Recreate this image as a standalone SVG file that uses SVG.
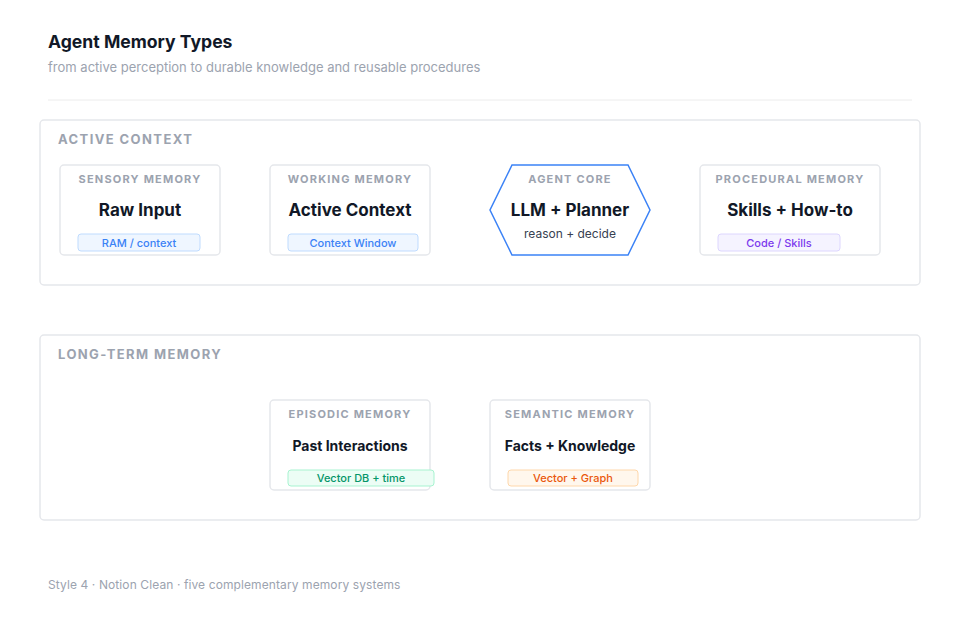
<svg xmlns="http://www.w3.org/2000/svg" width="960" height="620" viewBox="0 0 960 620">
<style>
text{font-family:Inter,"Noto Sans","Liberation Sans",sans-serif}
.title{font-size:17.6px;font-weight:700;fill:#111827}
.sub{font-size:13px;fill:#9ca3af}
.group{fill:#ffffff;stroke:#e5e7eb;stroke-width:1.5}
.glabel{font-size:13px;font-weight:700;fill:#9ca3af;letter-spacing:1.4px}
.box{fill:#ffffff;stroke:#e5e7eb;stroke-width:1.5}
.kind{font-size:11px;font-weight:700;fill:#9ca3af;letter-spacing:1.2px;text-anchor:middle}
.main{font-size:17px;font-weight:700;fill:#111827;text-anchor:middle}
.main2{font-size:14px;font-weight:700;fill:#111827;text-anchor:middle}
.note{font-size:12px;fill:#374151;text-anchor:middle}
.badge{font-size:11px;font-weight:500;text-anchor:middle}
.foot{font-size:12px;fill:#9ca3af;letter-spacing:0.1px}
</style>
<rect width="960" height="620" fill="#ffffff"/>
<text class="title" x="48" y="48">Agent Memory Types</text>
<text class="sub" x="48" y="72">from active perception to durable knowledge and reusable procedures</text>
<line x1="48" y1="100" x2="912" y2="100" stroke="#ececec" stroke-width="1"/>

<g id="active-context">
<rect class="group" x="40" y="120" width="880" height="165" rx="4"/>
<text class="glabel" x="58" y="144">ACTIVE CONTEXT</text>
</g>
<g id="long-term-memory">
<rect class="group" x="40" y="335" width="880" height="185" rx="4"/>
<text class="glabel" x="58" y="359">LONG-TERM MEMORY</text>
</g>

<g id="connectors"></g>

<g id="sensory">
<rect class="box" x="60" y="165" width="160" height="90" rx="4"/>
<text class="kind" x="140" y="183">SENSORY MEMORY</text>
<text class="main" x="140" y="216">Raw Input</text>
<rect x="78" y="234" width="122" height="17" rx="3" fill="#eff6ff" stroke="#bfdbfe"/>
<text class="badge" x="139" y="246.5" fill="#3b82f6">RAM / context</text>
</g>

<g id="working">
<rect class="box" x="270" y="165" width="160" height="90" rx="4"/>
<text class="kind" x="350" y="183">WORKING MEMORY</text>
<text class="main" x="350" y="216">Active Context</text>
<rect x="288" y="234" width="130" height="17" rx="3" fill="#eff6ff" stroke="#bfdbfe"/>
<text class="badge" x="353" y="246.5" fill="#3b82f6">Context Window</text>
</g>

<g id="agent-core">
<polygon points="512,165 628,165 650,210 628,255 512,255 490,210" fill="#ffffff" stroke="#3b82f6" stroke-width="1.5"/>
<text class="kind" x="570" y="183">AGENT CORE</text>
<text class="main" x="570" y="216">LLM + Planner</text>
<text class="note" x="570" y="238">reason + decide</text>
</g>

<g id="procedural">
<rect class="box" x="700" y="165" width="180" height="90" rx="4"/>
<text class="kind" x="790" y="183">PROCEDURAL MEMORY</text>
<text class="main" x="790" y="216">Skills + How-to</text>
<rect x="718" y="234" width="122" height="17" rx="3" fill="#f5f3ff" stroke="#ddd6fe"/>
<text class="badge" x="779" y="246.5" fill="#7c3aed">Code / Skills</text>
</g>

<g id="episodic">
<rect class="box" x="270" y="400" width="160" height="90" rx="4"/>
<text class="kind" x="350" y="418">EPISODIC MEMORY</text>
<text class="main2" x="350" y="451">Past Interactions</text>
<rect x="288" y="470" width="146" height="16" rx="3" fill="#ecfdf5" stroke="#a7f3d0"/>
<text class="badge" x="361" y="482" fill="#059669">Vector DB + time</text>
</g>

<g id="semantic">
<rect class="box" x="490" y="400" width="160" height="90" rx="4"/>
<text class="kind" x="570" y="418">SEMANTIC MEMORY</text>
<text class="main2" x="570" y="451">Facts + Knowledge</text>
<rect x="508" y="470" width="130" height="16" rx="3" fill="#fff7ed" stroke="#fed7aa"/>
<text class="badge" x="573" y="482" fill="#ea580c">Vector + Graph</text>
</g>

<text class="foot" x="48" y="589">Style 4 · Notion Clean · five complementary memory systems</text>
</svg>
